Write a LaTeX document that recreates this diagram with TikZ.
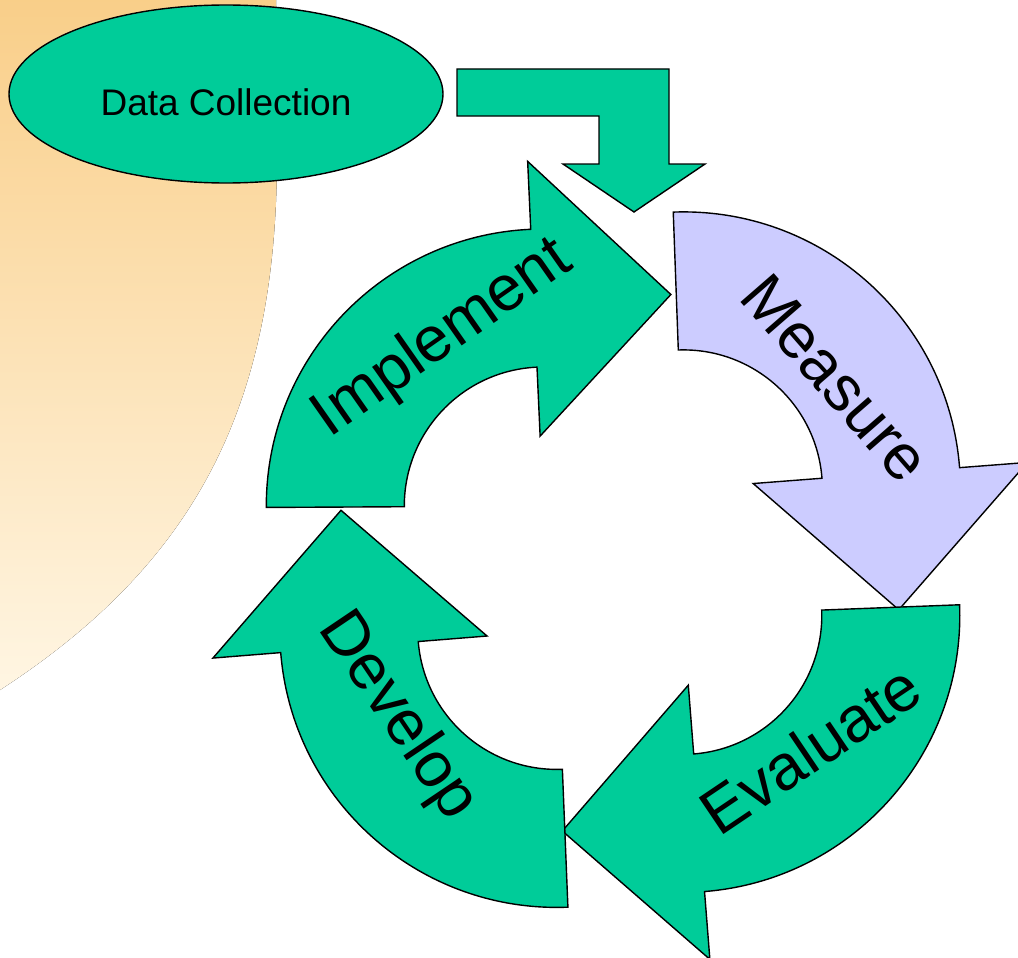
\documentclass[tikz,border=0pt]{standalone}
\usepackage{fontspec}
\setmainfont{Liberation Sans}
\usetikzlibrary{shapes.geometric}

\definecolor{leaf}{RGB}{0,204,153}
\definecolor{lilac}{RGB}{204,204,255}
\definecolor{sunTop}{RGB}{249,206,136}
\definecolor{sunBottom}{RGB}{255,246,228}

% geometry of the curved cycle arrows (radii in px)
\newcommand{\rIn}{139}
\newcommand{\rOut}{277}
\newcommand{\rNeck}{70}
\newcommand{\rHead}{345}
\newcommand{\rTip}{247}
\newcommand{\bodySweep}{87.7}
\newcommand{\tipSweep}{121.4}

% #1 centre x, #2 centre y, #3 tail angle (clockwise on screen), #4 fill colour
\newcommand{\cyclearrow}[4]{%
  \begin{scope}[shift={(#1,#2)}]
    \draw[outline, fill=#4]
      (#3:\rOut) arc[start angle=#3, end angle=#3+\bodySweep, radius=\rOut]
      -- (#3+\bodySweep:\rHead)
      -- (#3+\tipSweep:\rTip)
      -- (#3+\bodySweep:\rNeck)
      -- (#3+\bodySweep:\rIn)
      arc[start angle=#3+\bodySweep, end angle=#3, radius=\rIn]
      -- cycle;
  \end{scope}}

\begin{document}
\begin{tikzpicture}[x=1pt, y=-1pt,
  outline/.style={draw=black, line width=1.4pt, line join=miter},
  bigword/.style={anchor=base, inner sep=0pt, font=\fontsize{64}{70}\selectfont},
  smallword/.style={anchor=base, inner sep=0pt, font=\fontsize{37}{42}\selectfont}]

\useasboundingbox (0,0) rectangle (1018,958);
\clip (0,0) rectangle (1018,958);

% warm backdrop in the upper left
\fill[top color=sunTop, bottom color=sunBottom]
  (-10,-10) -- (276,-10) -- (277,150)
  .. controls (278,400) and (200,560) .. (0,690)
  -- (-10,700) -- cycle;

% data collection source
\node[ellipse, outline, fill=leaf, minimum width=434pt, minimum height=178pt, inner sep=0pt]
  (collect) at (226,94) {};
\node[smallword] (collectlabel) at (226,115) {Data Collection};

% bent arrow feeding the cycle
\draw[outline, fill=leaf]
  (457,69) -- (669,69) -- (669,164) -- (705,164) -- (634,212)
  -- (563,164) -- (599,164) -- (599,116) -- (457,116) -- cycle;

% the four stages of the cycle
\cyclearrow{543.3}{506}{179.7}{leaf}
\cyclearrow{683.4}{488.9}{267.9}{lilac}
\cyclearrow{682.8}{615.4}{-2.2}{leaf}
\cyclearrow{556.8}{630.4}{87.7}{leaf}

\node[bigword, rotate=35]  (implement) at (452.3,352.5) {Implement};
\node[bigword, rotate=-49] (measure)   at (819.3,392.2) {Measure};
\node[bigword, rotate=34]  (evaluate)  at (823.2,767.8) {Evaluate};
\node[bigword, rotate=-56] (develop)   at (383.5,725.9) {Develop};

\end{tikzpicture}
\end{document}
